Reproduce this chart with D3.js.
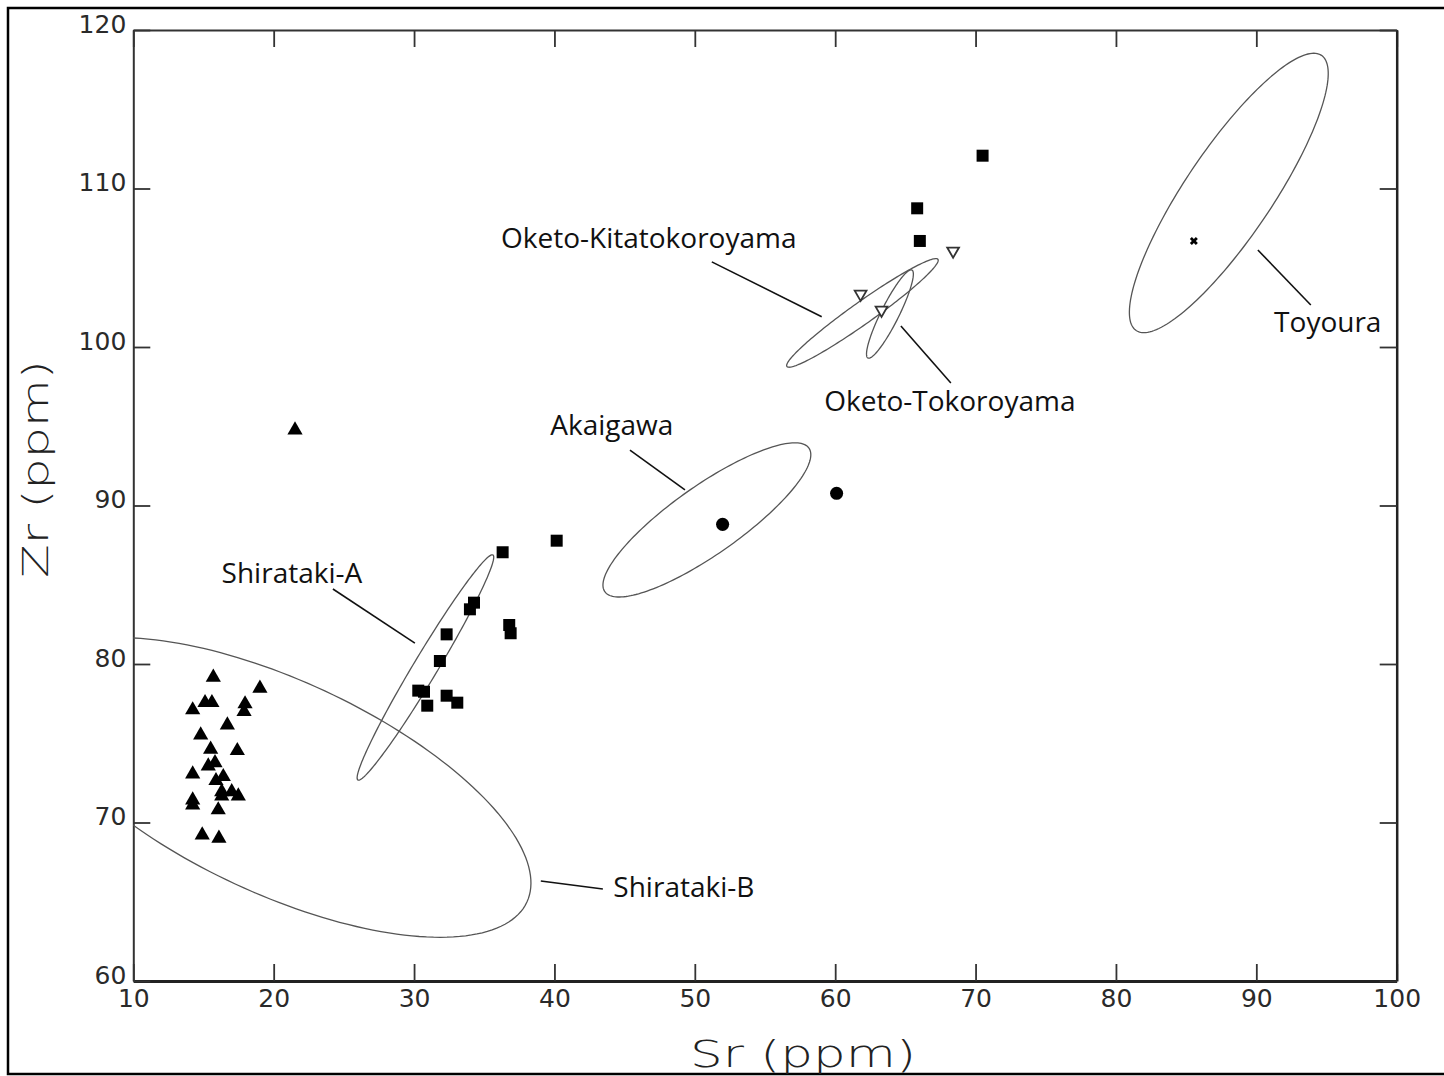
<!DOCTYPE html>
<html>
<head>
<meta charset="utf-8">
<script src="https://cdn.jsdelivr.net/npm/d3@7"></script>
<style>
  body { margin: 0; background: #fff; }
  .tick text { font-family: "DejaVu Sans", sans-serif; fill: #2a2a2a; }
</style>
</head>
<body>
<svg id="chart" width="1444" height="1076"></svg>
<script>
// Sr / Zr data (ppm)
let shiratakiTri = [
  [15.70, 79.16], [19.02, 78.47], [15.11, 77.56], [15.60, 77.56], [14.23, 77.10],
  [17.96, 77.48], [17.89, 76.99], [16.70, 76.15], [14.80, 75.52], [15.51, 74.62],
  [17.41, 74.53], [15.34, 73.56], [15.82, 73.77], [14.23, 73.06], [16.41, 72.89],
  [15.89, 72.64], [16.30, 71.94], [17.01, 71.94], [17.48, 71.67], [16.30, 71.67],
  [14.23, 71.42], [14.23, 71.10], [16.05, 70.79], [14.91, 69.21], [16.10, 69.00],
  [21.52, 94.76]
]
let squares = [
  [36.31, 87.05], [40.16, 87.78], [34.27, 83.87], [33.98, 83.45], [36.78, 82.46],
  [36.88, 81.94], [32.32, 81.87], [31.84, 80.19], [30.30, 78.32], [30.71, 78.25],
  [30.94, 77.37], [32.32, 78.00], [33.08, 77.56],
  [70.50, 112.07], [65.84, 108.75], [66.03, 106.69]
]
let openTri = [[68.40, 106.06], [61.81, 103.34], [63.30, 102.33]]
let circles = [[51.98, 88.81], [60.10, 90.77]]
let toyouraPt = [[85.55, 106.69]]

// ellipses: centre + two conjugate half-axis vectors (data units)
let ellipses = [
  {name: "Shirataki-B", cx: 20.45, cy: 72.21, ax: 17.59, ay: -7.23, bx: -3.19, by: -6.09},
  {name: "Shirataki-A", cx: 30.81, cy: 79.78, ax: 4.81, ay: 7.10, bx: 0.733, by: -0.389},
  {name: "Akaigawa", cx: 50.86, cy: 89.09, ax: 7.27, ay: 4.53, bx: 1.40, by: -1.77},
  {name: "Oketo-Kitatokoroyama", cx: 61.94, cy: 102.15, ax: 5.38, ay: 3.38, bx: 0.453, by: -0.567},
  {name: "Oketo-Tokoroyama", cx: 63.90, cy: 102.08, ax: 1.567, ay: 2.776, bx: 0.573, by: -0.254},
  {name: "Toyoura", cx: 88.04, cy: 109.72, ax: 6.60, ay: 8.68, bx: 2.57, by: -1.53}
]

// labels with leader lines (data units)
let labels = [
  {text: "Oketo-Kitatokoroyama", lx: 46.72, ly: 106.88, x1: 51.21, y1: 105.37, x2: 59.04, y2: 101.91},
  {text: "Oketo-Tokoroyama", lx: 68.17, ly: 96.59, x1: 64.68, y1: 101.32, x2: 68.24, y2: 97.73},
  {text: "Toyoura", lx: 95.09, ly: 101.58, x1: 90.11, y1: 106.12, x2: 93.88, y2: 102.65},
  {text: "Akaigawa", lx: 44.09, ly: 95.08, x1: 45.38, y1: 93.50, x2: 49.30, y2: 90.98},
  {text: "Shirataki-A", lx: 21.30, ly: 85.74, x1: 24.22, y1: 84.73, x2: 30.06, y2: 81.32},
  {text: "Shirataki-B", lx: 49.22, ly: 65.93, x1: 39.03, y1: 66.31, x2: 43.45, y2: 65.80}
]

let xTicks = [10, 20, 30, 40, 50, 60, 70, 80, 90, 100]
let yTicks = [60, 70, 80, 90, 100, 110, 120]

let svg = d3.select("#chart")
let plotLeft = 133.3, plotRight = 1396.7, plotTop = 30, plotBottom = 981

let x = d3.scaleLinear().domain([10, 100]).range([plotLeft, plotRight])
let y = d3.scaleLinear().domain([60, 120]).range([plotBottom, plotTop])

// outer frame (right edge falls off the picture)
svg.append("rect")
  .attr("x", 8).attr("y", 8)
  .attr("width", 1442).attr("height", 1066)
  .attr("fill", "none").attr("stroke", "#000").attr("stroke-width", 2.5)

svg.append("clipPath").attr("id", "plotclip")
  .append("rect")
  .attr("x", plotLeft).attr("y", plotTop)
  .attr("width", plotRight - plotLeft).attr("height", plotBottom - plotTop)

// axes with inward ticks
let xAxis = svg.append("g")
  .attr("transform", "translate(0," + plotBottom + ")")
  .call(d3.axisBottom(x).tickValues(xTicks).tickSize(-17).tickSizeOuter(0).tickPadding(8))
xAxis.selectAll("text").attr("font-size", 25)
xAxis.select(".domain").attr("stroke-width", 3).attr("stroke", "#222")

let xTop = svg.append("g")
  .attr("transform", "translate(0," + plotTop + ")")
  .call(d3.axisTop(x).tickValues(xTicks).tickSize(-17).tickSizeOuter(0).tickFormat(""))
xTop.select(".domain").attr("stroke-width", 2).attr("stroke", "#333")

let yAxis = svg.append("g")
  .attr("transform", "translate(" + plotLeft + ",0)")
  .call(d3.axisLeft(y).tickValues(yTicks).tickSize(-17).tickSizeOuter(0).tickPadding(7))
yAxis.selectAll("text").attr("font-size", 25).attr("dy", "0.08em")
yAxis.select(".domain").attr("stroke-width", 2).attr("stroke", "#333")

let yRight = svg.append("g")
  .attr("transform", "translate(" + plotRight + ",0)")
  .call(d3.axisRight(y).tickValues(yTicks).tickSize(-17).tickSizeOuter(0).tickFormat(""))
yRight.select(".domain").attr("stroke-width", 2.5).attr("stroke", "#222")

svg.selectAll(".tick line").attr("stroke", "#333").attr("stroke-width", 1.8)

// axis titles (thin, wide lettering like the original)
svg.append("text")
  .attr("x", (plotLeft + plotRight) / 2 + 38).attr("y", 1067)
  .attr("text-anchor", "middle")
  .attr("font-family", "DejaVu Sans").attr("font-weight", 200)
  .attr("font-size", 38).attr("fill", "#222")
  .attr("textLength", 226).attr("lengthAdjust", "spacingAndGlyphs")
  .text("Sr (ppm)")

svg.append("text")
  .attr("transform", "translate(48," + 469 + ") rotate(-90)")
  .attr("text-anchor", "middle")
  .attr("font-family", "DejaVu Sans").attr("font-weight", 200)
  .attr("font-size", 36).attr("fill", "#222")
  .attr("textLength", 218).attr("lengthAdjust", "spacingAndGlyphs")
  .text("Zr (ppm)")

// ellipses
let ellipseLine = d3.line()
  .x(d => x(d[0])).y(d => y(d[1]))
  .curve(d3.curveLinearClosed)

function ellipsePoints(e) {
  return d3.range(0, 2 * Math.PI, Math.PI / 90).map(t =>
    [e.cx + e.ax * Math.cos(t) + e.bx * Math.sin(t),
     e.cy + e.ay * Math.cos(t) + e.by * Math.sin(t)])
}

svg.append("g").attr("clip-path", "url(#plotclip)")
  .selectAll("path")
  .data(ellipses)
  .enter()
  .append("path")
  .attr("d", d => ellipseLine(ellipsePoints(d)))
  .attr("fill", "none")
  .attr("stroke", "#555")
  .attr("stroke-width", 1.3)

// leader lines and labels
svg.append("g").selectAll("line")
  .data(labels)
  .enter()
  .append("line")
  .attr("x1", d => x(d.x1)).attr("y1", d => y(d.y1))
  .attr("x2", d => x(d.x2)).attr("y2", d => y(d.y2))
  .attr("stroke", "#111").attr("stroke-width", 1.6)

svg.append("g").selectAll("text")
  .data(labels)
  .enter()
  .append("text")
  .attr("x", d => x(d.lx)).attr("y", d => y(d.ly))
  .attr("dy", "0.35em")
  .attr("text-anchor", "middle")
  .attr("font-family", "Open Sans").attr("font-size", 28).attr("fill", "#111")
  .text(d => d.text)

// points
let triSym = d3.symbol().type(d3.symbolTriangle).size(100)
let sqSym = d3.symbol().type(d3.symbolSquare).size(144)
let circSym = d3.symbol().type(d3.symbolCircle).size(135)
let openSym = d3.symbol().type(d3.symbolTriangle).size(60)
let crossSym = d3.symbol().type(d3.symbolCross).size(40)

svg.append("g").selectAll("path")
  .data(shiratakiTri)
  .enter()
  .append("path")
  .attr("d", triSym)
  .attr("transform", d => "translate(" + x(d[0]) + "," + y(d[1]) + ")")
  .attr("fill", "#000")

svg.append("g").selectAll("path")
  .data(squares)
  .enter()
  .append("path")
  .attr("d", sqSym)
  .attr("transform", d => "translate(" + x(d[0]) + "," + y(d[1]) + ")")
  .attr("fill", "#000")

svg.append("g").selectAll("path")
  .data(circles)
  .enter()
  .append("path")
  .attr("d", circSym)
  .attr("transform", d => "translate(" + x(d[0]) + "," + y(d[1]) + ")")
  .attr("fill", "#000")

svg.append("g").selectAll("path")
  .data(openTri)
  .enter()
  .append("path")
  .attr("d", openSym)
  .attr("transform", d => "translate(" + x(d[0]) + "," + y(d[1]) + ") rotate(180)")
  .attr("fill", "#fff").attr("stroke", "#333").attr("stroke-width", 1.8)

svg.append("g").selectAll("path")
  .data(toyouraPt)
  .enter()
  .append("path")
  .attr("d", crossSym)
  .attr("transform", d => "translate(" + x(d[0]) + "," + y(d[1]) + ") rotate(45)")
  .attr("fill", "#000")
</script>
</body>
</html>
